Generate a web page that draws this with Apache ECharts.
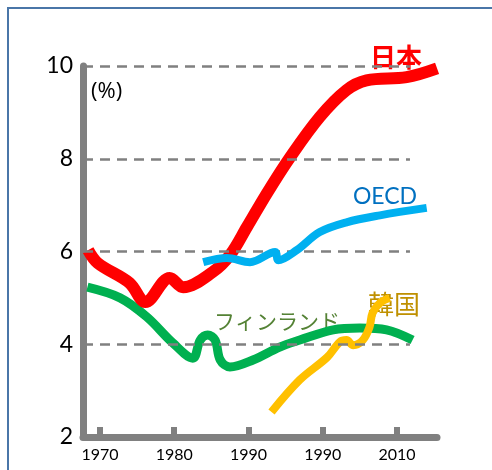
<!DOCTYPE html>
<html>
<head>
<meta charset="utf-8">
<script src="https://cdn.jsdelivr.net/npm/echarts@6/dist/echarts.min.js"></script>
<style>
  html, body { margin: 0; padding: 0; background: #fff; }
  #chart { width: 492px; height: 470px; }
</style>
</head>
<body>
<div id="chart"></div>
<script>
// values: [year, %]
var japan = [[1968.4, 6.03], [1969.7, 5.75], [1974.0, 5.32], [1976.1, 4.91], [1979.4, 5.43], [1981.2, 5.23],
  [1985.2, 5.56], [1987.5, 5.92], [1989.8, 6.53], [1992.5, 7.26], [1995.6, 8.03], [1999.6, 8.9],
  [2003.2, 9.48], [2005.9, 9.69], [2011.3, 9.76], [2015.4, 9.95]];
var oecd = [[1983.9, 5.77], [1987.1, 5.86], [1990.2, 5.77], [1993.6, 5.99], [1994.0, 5.81], [1996.5, 6.03],
  [1999.6, 6.42], [2003.2, 6.63], [2007.7, 6.78], [2014.0, 6.94]];
var finland = [[1968.3, 5.23], [1972.7, 5.0], [1976.3, 4.59], [1979.8, 4.03], [1982.5, 3.7], [1983.5, 4.09],
  [1984.5, 4.2], [1985.5, 4.09], [1986.2, 3.66], [1987.5, 3.51], [1990.6, 3.66], [1994.2, 3.94],
  [1996.9, 4.09], [2001.4, 4.31], [2005.0, 4.35], [2008.6, 4.31], [2012.1, 4.09]];
var korea = [[1993.1, 2.54], [1996.9, 3.23], [2000.6, 3.72], [2002.3, 4.05], [2003.2, 4.09], [2004.1, 3.98],
  [2005.4, 4.09], [2006.3, 4.37], [2006.7, 4.67], [2007.7, 4.89], [2009.0, 5.0]];

var tickYears = [1970, 1980, 1990, 2000, 2010];
var tickLabels = ["1970", "1980", "1990", "1990", "2010"];
var gridValues = [4, 6, 8, 10];

var xMin = 1967.71, xMax = 2015.39, gridEnd = 2011.75;
var font = "Lato, 'Noto Sans', 'Noto Sans CJK JP', sans-serif";
var jpFont = "'Noto Sans CJK JP', sans-serif";

var chart = echarts.init(document.getElementById("chart"));

var option = {
  animation: false,
  grid: { left: 83, right: 55, top: 66, bottom: 33 },
  xAxis: {
    type: "value",
    min: xMin,
    max: xMax,
    axisLine: { lineStyle: { color: "#808080", width: 7 } },
    axisTick: {
      customValues: tickYears,
      inside: true,
      length: 10,
      lineStyle: { color: "#808080", width: 6 },
    },
    axisLabel: {
      customValues: tickYears,
      margin: 10,
      fontSize: 16,
      color: "#000",
      fontFamily: font,
      formatter: function (v) {
        var i = tickYears.indexOf(Math.round(v));
        return i >= 0 ? tickLabels[i] : "";
      },
    },
    splitLine: { show: false },
  },
  yAxis: {
    type: "value",
    min: 2,
    max: 10,
    interval: 2,
    axisLine: { show: true, lineStyle: { color: "#808080", width: 7 } },
    axisTick: { show: false },
    axisLabel: { margin: 10, fontSize: 23, color: "#000", fontFamily: font },
    splitLine: { show: false },
  },
  graphic: [
    { type: "rect", shape: { x: 8, y: 8, width: 500, height: 480 }, style: { fill: "none", stroke: "#4a76a8", lineWidth: 2 }, silent: true },
    { type: "text", x: 91, y: 92, style: { text: "(%)", fontSize: 22, fill: "#000", fontFamily: "'Open Sans', sans-serif", verticalAlign: "middle" } },
    { type: "text", x: 396, y: 57, style: { text: "日本", fontSize: 26, fontWeight: "bold", fill: "#ff0000", fontFamily: jpFont, align: "center", verticalAlign: "middle" } },
    { type: "text", x: 385, y: 197, style: { text: "OECD", fontSize: 23, fill: "#0070c0", fontFamily: font, align: "center", verticalAlign: "middle" } },
    { type: "text", x: 277, y: 321, style: { text: "フィンランド", fontSize: 21, fill: "#548235", fontFamily: jpFont, align: "center", verticalAlign: "middle" } },
    { type: "text", x: 394, y: 304, style: { text: "韓国", fontSize: 26, fill: "#bf9000", fontFamily: jpFont, align: "center", verticalAlign: "middle" } },
  ],
  series: [
    {
      name: "grid",
      type: "line",
      data: [],
      z: 1,
      silent: true,
      markLine: {
        silent: true,
        symbol: "none",
        label: { show: false },
        lineStyle: { color: "#808080", width: 2.5, type: [10, 7] },
        data: gridValues.map(function (v) { return [{ coord: [xMin, v] }, { coord: [gridEnd, v] }]; }),
      },
    },
    { name: "フィンランド", type: "line", data: finland, smooth: 0.35, showSymbol: false, z: 3, lineStyle: { color: "#00b050", width: 9 } },
    { name: "韓国", type: "line", data: korea, smooth: 0.35, showSymbol: false, z: 3, lineStyle: { color: "#ffc000", width: 8 } },
    { name: "日本", type: "line", data: japan, smooth: 0.35, showSymbol: false, z: 4, lineStyle: { color: "#ff0000", width: 12 } },
    { name: "OECD", type: "line", data: oecd, smooth: 0.35, showSymbol: false, z: 5, lineStyle: { color: "#00b0f0", width: 8 } },
  ],
};

chart.setOption(option);
</script>
</body>
</html>
